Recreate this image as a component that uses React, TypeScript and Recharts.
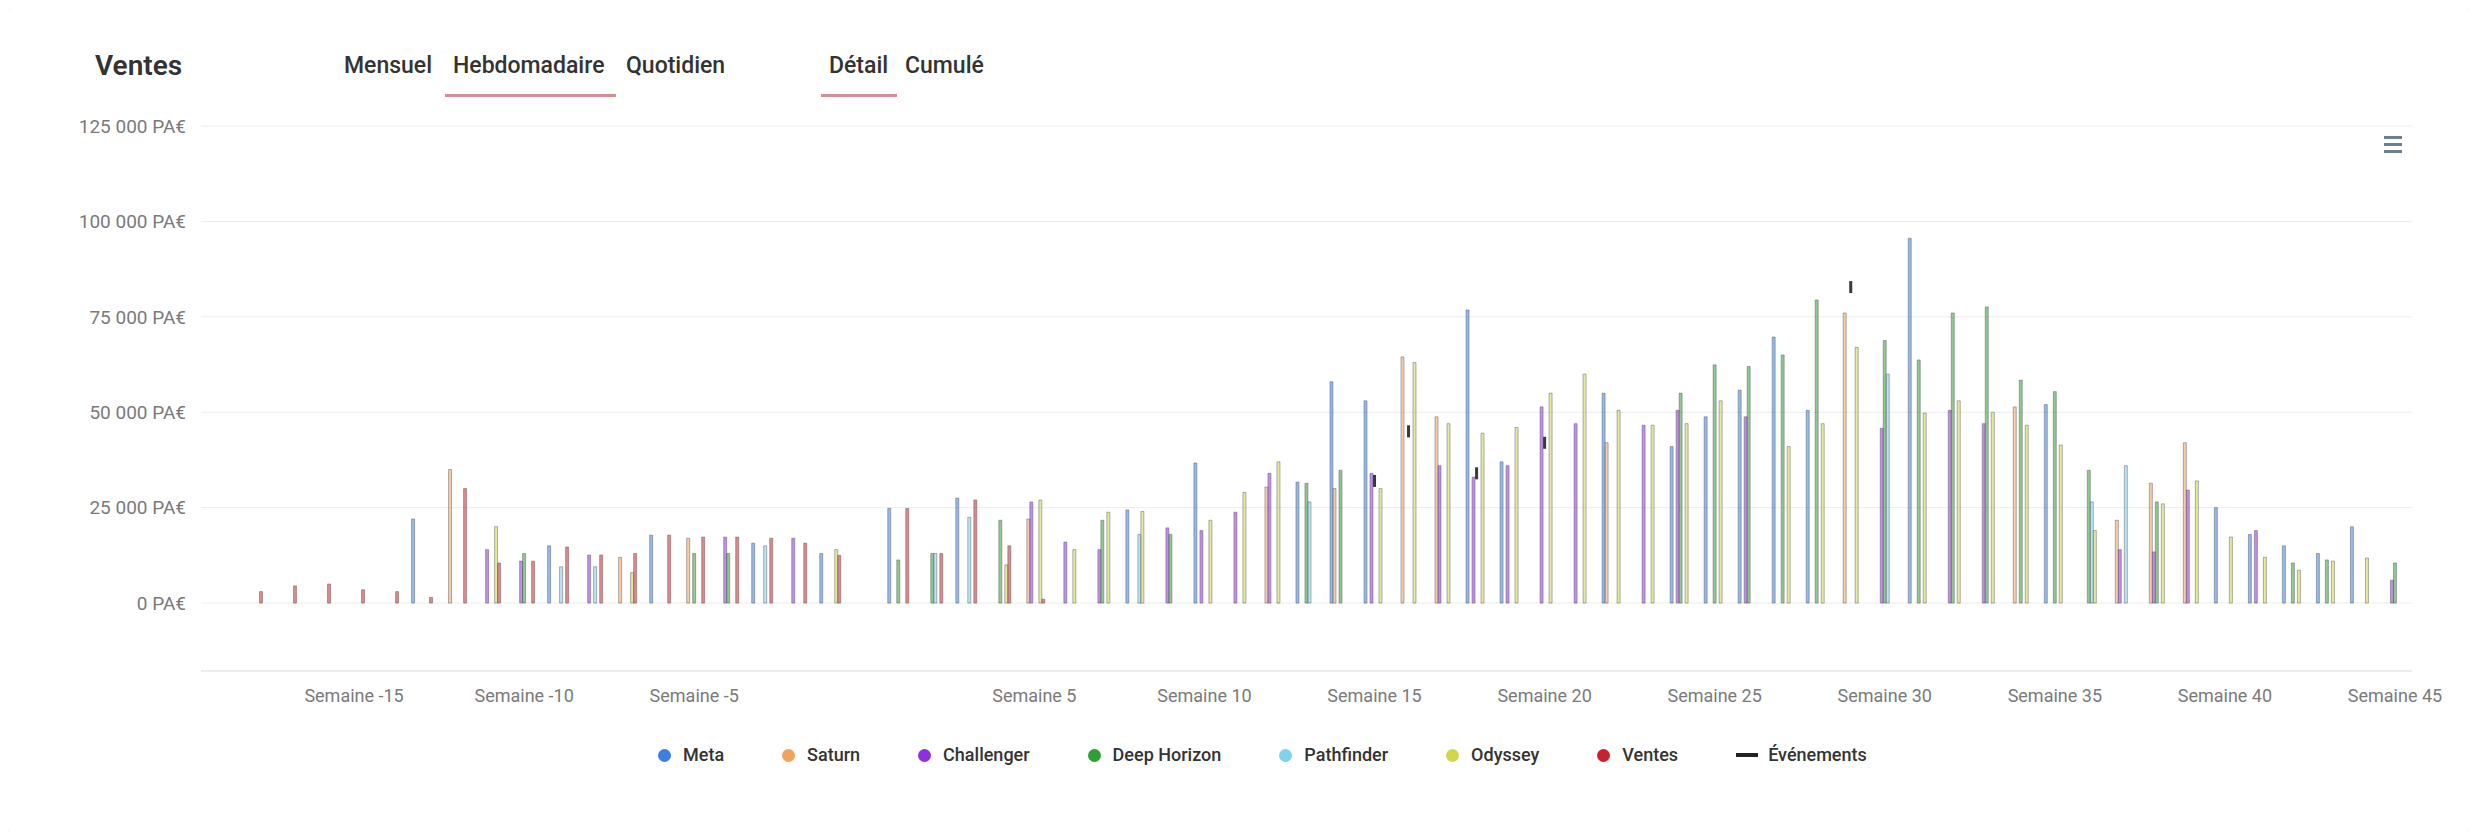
import React from 'react';
import { ComposedChart, Bar, Line, XAxis, YAxis, CartesianGrid } from 'recharts';

// Categories: week numbers
const weeks: number[] = [
  -19, -18, -17, -16, -15, -14, -13, -12, -11, -10, -9, -8, -7, -6, -5, -4, -3, -2, -1, 0,
  1, 2, 3, 4, 5, 6, 7, 8, 9, 10, 11, 12, 13, 14, 15, 16, 17, 18, 19, 20,
  21, 22, 23, 24, 25, 26, 27, 28, 29, 30, 31, 32, 33, 34, 35, 36, 37, 38, 39, 40,
  41, 42, 43, 44, 45,
];

// X tick labels (every 5 weeks, week 0 unlabeled)
const labeledWeeks: number[] = [-15, -10, -5, 5, 10, 15, 20, 25, 30, 35, 40, 45];

// Y ticks
const yTicks: number[] = [0, 25000, 50000, 75000, 100000, 125000];

// Series values: [week, value]
const meta: [number, number][] = [
  [-13, 22000], [-9, 15000], [-6, 17800], [-3, 15700], [-1, 13000], [1, 24800], [3, 27500],
  [8, 24400], [10, 36700], [13, 31700], [14, 58000], [15, 53000], [18, 76800], [19, 37000],
  [22, 55000], [24, 41000], [25, 48800], [26, 55800], [27, 69700], [28, 50500], [31, 95600],
  [35, 52000], [40, 25000], [41, 18000], [42, 15000], [43, 13000], [44, 20000],
];
const saturn: [number, number][] = [
  [-12, 35000], [-7, 12000], [-5, 17000], [5, 22000], [12, 30400], [14, 30000], [16, 64500],
  [17, 48800], [22, 42000], [29, 76000], [34, 51400], [37, 21700], [38, 31400], [39, 42000],
];
const challenger: [number, number][] = [
  [-11, 14000], [-10, 11000], [-8, 12600], [-4, 17300], [-2, 17000], [5, 26500], [6, 16000],
  [7, 14000], [9, 19700], [10, 19000], [11, 23800], [12, 34000], [15, 34000], [17, 36000],
  [18, 33000], [19, 36000], [20, 51400], [21, 47000], [23, 46600], [24, 50500], [26, 48800],
  [30, 45800], [32, 50500], [33, 47000], [37, 14000], [38, 13400], [39, 29600], [41, 19000],
  [45, 6000],
];
const deepHorizon: [number, number][] = [
  [-10, 13000], [-5, 13000], [-4, 13000], [1, 11300], [2, 13000], [4, 21700], [7, 21700],
  [9, 18000], [13, 31400], [14, 34800], [24, 55000], [25, 62400], [26, 62000], [27, 65000],
  [28, 79400], [30, 68800], [31, 63700], [32, 76000], [33, 77600], [34, 58400], [35, 55400],
  [36, 34800], [38, 26500], [42, 10500], [43, 11300], [45, 10500],
];
const pathfinder: [number, number][] = [
  [-9, 9500], [-8, 9500], [-3, 15000], [2, 13000], [3, 22500], [8, 18000], [13, 26500],
  [30, 60000], [36, 26500], [37, 36000],
];
const odyssey: [number, number][] = [
  [-11, 20000], [-7, 8000], [-1, 14000], [4, 10000], [5, 27000], [6, 14000], [7, 23800],
  [8, 24000], [10, 21700], [11, 29000], [12, 37000], [15, 30000], [16, 63000], [17, 47000],
  [18, 44500], [19, 46000], [20, 55000], [21, 60000], [22, 50500], [23, 46600], [24, 47000],
  [25, 53000], [27, 41000], [28, 47000], [29, 67000], [31, 49800], [32, 53000], [33, 50000],
  [34, 46600], [35, 41400], [36, 19000], [38, 26000], [39, 32000], [40, 17300], [41, 12000],
  [42, 8600], [43, 11000], [44, 11800],
];
const ventes: [number, number][] = [
  [-18, 3000], [-17, 4500], [-16, 5000], [-15, 3500], [-14, 3000], [-13, 1500], [-12, 30000],
  [-11, 10500], [-10, 11000], [-9, 14700], [-8, 12600], [-7, 13000], [-6, 17800], [-5, 17300],
  [-4, 17300], [-3, 17000], [-2, 15700], [-1, 12500], [1, 24800], [2, 13000], [3, 27000],
  [4, 15000], [5, 1000],
];
const evenements: [number, number][] = [
  [15, 32000], [16, 45000], [18, 34000], [20, 42000], [29, 82800],
];

const barSeries = [
  { key: 'meta', name: 'Meta', color: '#3d7fe0', values: meta },
  { key: 'saturn', name: 'Saturn', color: '#f2a25c', values: saturn },
  { key: 'challenger', name: 'Challenger', color: '#8f2fe0', values: challenger },
  { key: 'deepHorizon', name: 'Deep Horizon', color: '#2e9f32', values: deepHorizon },
  { key: 'pathfinder', name: 'Pathfinder', color: '#7fd2ee', values: pathfinder },
  { key: 'odyssey', name: 'Odyssey', color: '#cfd84a', values: odyssey },
  { key: 'ventes', name: 'Ventes', color: '#c8232c', values: ventes },
];
const eventSeries = { key: 'evenements', name: 'Événements', color: '#222222', values: evenements };

const fmt = (v: number) => `${String(v).replace(/\B(?=(\d{3})+(?!\d))/g, ' ')} PA€`;

const EventDot = (props: any) => {
  const { cx, cy, value, index } = props;
  if (value == null || cy == null || cx == null) return <g key={`ev-${index}`} />;
  return <rect key={`ev-${index}`} x={cx - 1.5} y={cy - 6} width={3} height={12} fill="#3a3a3a" />;
};

const W = 2461;
const H = 823;

export default function App() {
  const data = weeks.map((w) => {
    const row: Record<string, number | null> = { week: w };
    [...barSeries, eventSeries].forEach((s) => {
      const f = s.values.find((p) => p[0] === w);
      row[s.key] = f ? f[1] : null;
    });
    return row;
  });

  const btn: React.CSSProperties = {
    position: 'absolute',
    lineHeight: '26px',
    top: 45,
    fontSize: 23,
    fontWeight: 500,
    color: '#333',
    whiteSpace: 'nowrap',
  };

  return (
    <div
      style={{
        position: 'relative',
        width: W,
        height: H,
        fontFamily: 'Roboto, "Noto Sans", sans-serif',
        background: '#fff',
        boxShadow: '0 1px 4px rgba(0,0,0,0.12)',
        borderRadius: 4,
      }}
    >
      <div style={{ ...btn, left: 87, top: 42, fontSize: 28, fontWeight: 600, lineHeight: '32px' }}>Ventes</div>
      <div style={{ ...btn, left: 336 }}>Mensuel</div>
      <div style={{ ...btn, left: 445 }}>Hebdomadaire</div>
      <div style={{ ...btn, left: 618 }}>Quotidien</div>
      <div style={{ position: 'absolute', left: 437, top: 86, width: 171, height: 3, background: '#cf8f95' }} />
      <div style={{ ...btn, left: 821 }}>Détail</div>
      <div style={{ ...btn, left: 897 }}>Cumulé</div>
      <div style={{ position: 'absolute', left: 813, top: 86, width: 76, height: 3, background: '#cf8f95' }} />

      <div style={{ position: 'absolute', left: 2376, top: 128 }}>
        {[0, 1, 2].map((i) => (
          <div key={i} style={{ width: 18, height: 3, background: '#6e7f8d', marginBottom: 4 }} />
        ))}
      </div>

      <ComposedChart
        width={W}
        height={700}
        data={data}
        margin={{ top: 118, right: 57, bottom: 7, left: 0 }}
        barCategoryGap="19%"
        barGap={0}
      >
        <CartesianGrid vertical={false} stroke="#ececec" />
        <XAxis
          dataKey="week"
          interval={0}
          tickFormatter={(w: number) => (labeledWeeks.includes(w) ? `Semaine ${w}` : '')}
          axisLine={{ stroke: '#e3e3e3' }}
          tickLine={false}
          tickSize={0}
          tickMargin={18}
          height={30}
          tick={{ fontSize: 18, fill: '#7a7a7a' }}
        />
        <YAxis
          width={193}
          domain={[-17800, 125000]}
          ticks={yTicks}
          tickFormatter={fmt}
          axisLine={false}
          tickLine={false}
          tickSize={0}
          tickMargin={15}
          allowDataOverflow
          tick={{ fontSize: 19, fill: '#7a7a7a' }}
        />
        {barSeries.map((s) => (
          <Bar
            key={s.key}
            dataKey={s.key}
            name={s.name}
            fill={s.color}
            fillOpacity={0.55}
            stroke="#555"
            strokeOpacity={0.45}
            strokeWidth={1}
            isAnimationActive={false}
          />
        ))}
        <Line
          dataKey={eventSeries.key}
          name={eventSeries.name}
          stroke="none"
          strokeWidth={0}
          dot={EventDot}
          activeDot={false}
          isAnimationActive={false}
          connectNulls={false}
        />
      </ComposedChart>

      <div
        style={{
          position: 'absolute',
          left: 650,
          top: 736,
          display: 'flex',
          alignItems: 'center',
          gap: 58,
          fontSize: 18,
          lineHeight: '22px',
          fontWeight: 500,
          color: '#333',
          whiteSpace: 'nowrap',
        }}
      >
        {barSeries.map((s) => (
          <div key={s.key} style={{ display: 'flex', alignItems: 'center' }}>
            <span
              style={{ width: 13, height: 13, borderRadius: 7, background: s.color, display: 'inline-block', marginRight: 12 }}
            />
            <span>{s.name}</span>
          </div>
        ))}
        <div style={{ display: 'flex', alignItems: 'center' }}>
          <span style={{ width: 22, height: 4, background: eventSeries.color, display: 'inline-block', marginRight: 10 }} />
          <span>{eventSeries.name}</span>
        </div>
      </div>
    </div>
  );
}
